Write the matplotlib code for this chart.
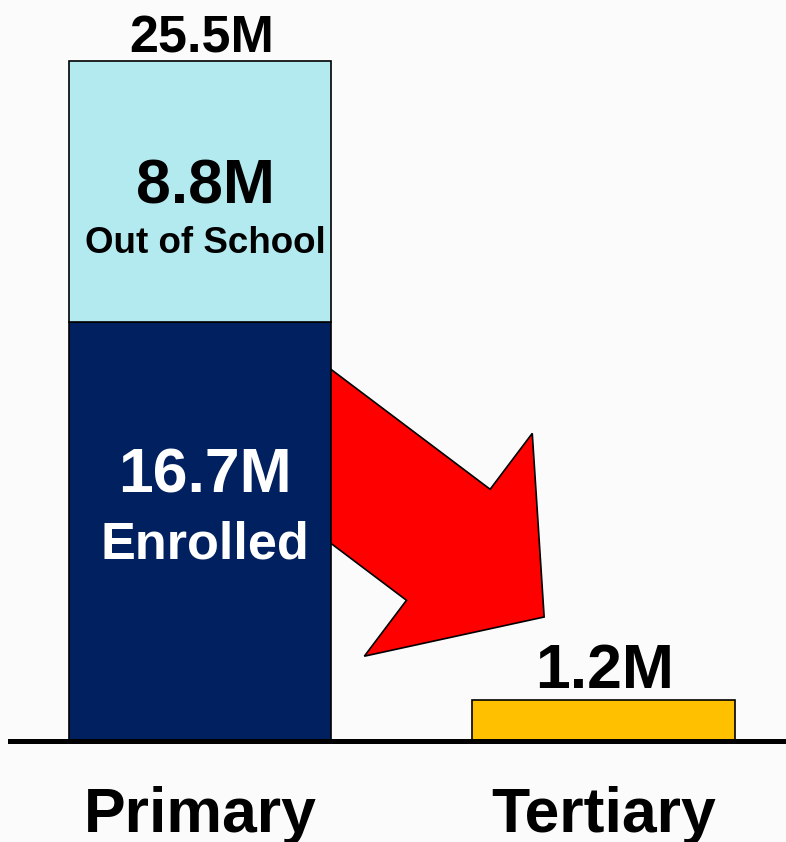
import matplotlib
matplotlib.use('Agg')
import matplotlib.pyplot as plt
from matplotlib.patches import FancyArrow
from matplotlib.transforms import ScaledTranslation

# bar heights as drawn (millions); the chart is not drawn exactly to scale
categories = ['Primary', 'Tertiary']
x_pos = [0.0, 1.0]
primary_segments = [15.7, 9.8]          # enrolled, out of school
primary_segment_values = ['16.7M', '8.8M']
primary_segment_names = ['Enrolled', 'Out of School']
tertiary_height = 1.55
total_labels = ['25.5M', '1.2M']

navy = '#002060'
light_blue = '#B3EAF0'
gold = '#FFC000'
red = '#FF0000'

plt.rcParams['font.family'] = ['Liberation Sans', 'DejaVu Sans']
plt.rcParams['font.weight'] = 'bold'

fig = plt.figure(figsize=(7.86, 8.42), dpi=100)
fig.patch.set_facecolor('#FBFBFB')
ax = fig.add_axes([0, 0, 1, 1])
ax.set_facecolor('#FBFBFB')
ax.set_xlim(-0.4957, 1.4523)
ax.set_ylim(-3.7875, 27.79)
ax.axis('off')

width = 0.65

# stacked primary bar
ax.bar(x_pos[0], primary_segments[0], width, color=navy, edgecolor='black', linewidth=1.2, zorder=2)
ax.bar(x_pos[0], primary_segments[1], width, bottom=primary_segments[0], color=light_blue,
       edgecolor='black', linewidth=1.2, zorder=2)
ax.bar(x_pos[1], tertiary_height, width, color=gold, edgecolor='black', linewidth=1.2, zorder=2)

# baseline
ax.axhline(0, xmin=10 / 786, xmax=1, color='black', linewidth=3.6, zorder=3)

# totals above bars
tops = [sum(primary_segments), tertiary_height]
offsets = [6.5, 8.6]
sizes = [37.5, 45]
for x, top, lab, off, fs in zip(x_pos, tops, total_labels, offsets, sizes):
    ax.annotate(lab, xy=(x, top), xytext=(1, off), textcoords='offset points',
                ha='center', va='baseline', fontsize=fs, fontweight='bold', color='black')

# labels inside the primary segments (sit a little right of centre)
mid_enr = primary_segments[0] / 2
mid_out = primary_segments[0] + primary_segments[1] / 2
dx = 3.8
ax.annotate(primary_segment_values[1], xy=(x_pos[0], mid_out), xytext=(dx, -8.6), textcoords='offset points',
            ha='center', va='baseline', fontsize=45, fontweight='bold', color='black', zorder=4)
ax.annotate(primary_segment_names[1], xy=(x_pos[0], mid_out), xytext=(dx, -44), textcoords='offset points',
            ha='center', va='baseline', fontsize=26.5, fontweight='bold', color='black', zorder=4)
ax.annotate(primary_segment_values[0], xy=(x_pos[0], mid_enr), xytext=(dx, 28), textcoords='offset points',
            ha='center', va='baseline', fontsize=45, fontweight='bold', color='white', zorder=4)
ax.annotate(primary_segment_names[0], xy=(x_pos[0], mid_enr), xytext=(dx, -19), textcoords='offset points',
            ha='center', va='baseline', fontsize=37.6, fontweight='bold', color='white', zorder=4)

# category labels under the baseline
for x, cat in zip(x_pos, categories):
    ax.annotate(cat, xy=(x, 0), xytext=(0, -65.5), textcoords='offset points',
                ha='center', va='baseline', fontsize=45, fontweight='bold', color='black')

# red arrow from the primary bar towards tertiary, sized in inches
edge_x = x_pos[0] + width / 2
edge_y = 10.67
arrow_tr = fig.dpi_scale_trans + ScaledTranslation(edge_x, edge_y, ax.transData)
arrow = FancyArrow(-0.799, 0.602, 2.929, -2.207, width=1.39, head_width=2.79, head_length=1.20,
                   length_includes_head=True, facecolor=red, edgecolor='black', linewidth=1.2,
                   transform=arrow_tr, zorder=1)
ax.add_patch(arrow)

fig.savefig('out.png', dpi=100, facecolor=fig.get_facecolor())
